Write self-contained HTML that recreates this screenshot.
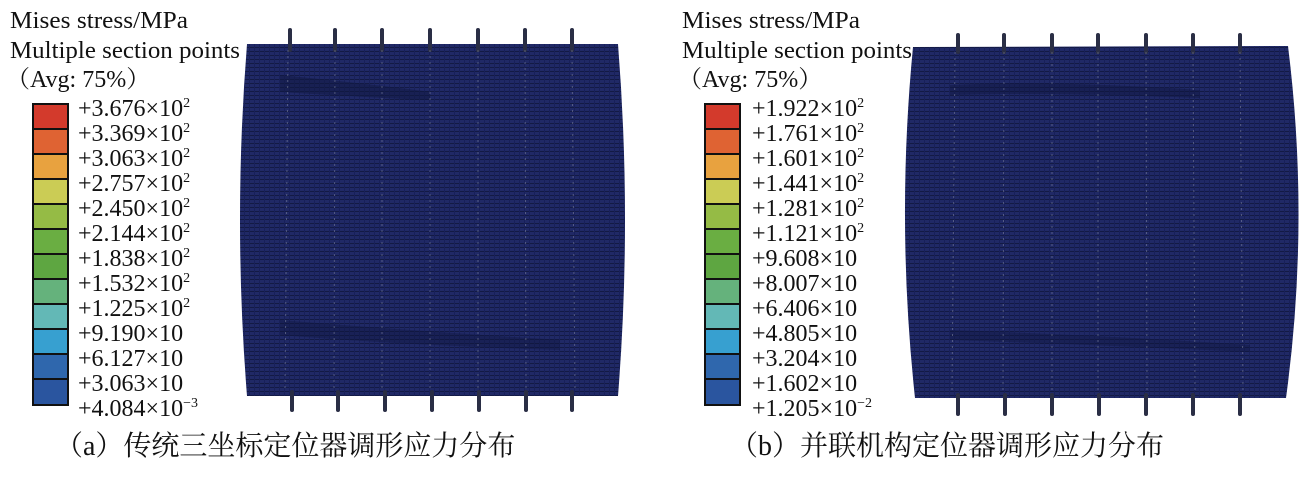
<!DOCTYPE html>
<html><head><meta charset="utf-8"><style>
html,body{margin:0;padding:0;background:#fff;}
svg text{font-family:"Liberation Serif","Noto Serif CJK SC",serif;fill:#111;}
</style></head><body>
<svg width="1307" height="473" viewBox="0 0 1307 473" xmlns="http://www.w3.org/2000/svg">
<defs>
<pattern id="mesh" width="5" height="4" patternUnits="userSpaceOnUse">
<rect width="5" height="4" fill="#202966"/>
<rect y="3" width="5" height="1" fill="#131a44"/>
<rect x="4" width="1" height="4" fill="#18205a"/>
</pattern>
</defs>

<!-- Left panel -->
<g font-size="24">
<text x="10" y="28" textLength="178" lengthAdjust="spacingAndGlyphs">Mises stress/MPa</text>
<text x="10" y="58" textLength="230" lengthAdjust="spacingAndGlyphs">Multiple section points</text>
<text x="6" y="87">（Avg: 75%）</text>
</g>
<g stroke="#111" stroke-width="2">
<rect x="33" y="104" width="35" height="25" fill="#d33a2c"/>
<rect x="33" y="129" width="35" height="25" fill="#df6333"/>
<rect x="33" y="154" width="35" height="25" fill="#e8a23f"/>
<rect x="33" y="179" width="35" height="25" fill="#cbcc55"/>
<rect x="33" y="204" width="35" height="25" fill="#95bb45"/>
<rect x="33" y="229" width="35" height="25" fill="#6aae42"/>
<rect x="33" y="254" width="35" height="25" fill="#5ea641"/>
<rect x="33" y="279" width="35" height="25" fill="#65b27c"/>
<rect x="33" y="304" width="35" height="25" fill="#63b8b6"/>
<rect x="33" y="329" width="35" height="25" fill="#37a0d0"/>
<rect x="33" y="354" width="35" height="25" fill="#2f67ad"/>
<rect x="33" y="379" width="35" height="26" fill="#2a559f"/>
</g>
<g font-size="24">
<text x="78" y="116">+3.676×10<tspan font-size="14" dy="-9">2</tspan></text>
<text x="78" y="141">+3.369×10<tspan font-size="14" dy="-9">2</tspan></text>
<text x="78" y="166">+3.063×10<tspan font-size="14" dy="-9">2</tspan></text>
<text x="78" y="191">+2.757×10<tspan font-size="14" dy="-9">2</tspan></text>
<text x="78" y="216">+2.450×10<tspan font-size="14" dy="-9">2</tspan></text>
<text x="78" y="241">+2.144×10<tspan font-size="14" dy="-9">2</tspan></text>
<text x="78" y="266">+1.838×10<tspan font-size="14" dy="-9">2</tspan></text>
<text x="78" y="291">+1.532×10<tspan font-size="14" dy="-9">2</tspan></text>
<text x="78" y="316">+1.225×10<tspan font-size="14" dy="-9">2</tspan></text>
<text x="78" y="341">+9.190×10</text>
<text x="78" y="366">+6.127×10</text>
<text x="78" y="391">+3.063×10</text>
<text x="78" y="416">+4.084×10<tspan font-size="14" dy="-9">−3</tspan></text>
</g>
<path d="M247 44 L618 44 Q632 220 618 396 L247 396 Q233 220 247 44 Z" fill="url(#mesh)"/>
<path d="M280 75 Q380 85 430 92 L430 100 Q380 98 280 92 Z" fill="#10173f" opacity="0.5"/>
<path d="M280 320 Q400 330 560 340 L560 350 Q400 345 280 335 Z" fill="#10173f" opacity="0.4"/>
<g stroke="#2a2e45" stroke-width="4" stroke-linecap="round">
<line x1="290" y1="30" x2="290" y2="50"/><line x1="335" y1="30" x2="335" y2="50"/><line x1="382" y1="30" x2="382" y2="50"/><line x1="430" y1="30" x2="430" y2="50"/><line x1="478" y1="30" x2="478" y2="50"/><line x1="525" y1="30" x2="525" y2="50"/><line x1="572" y1="30" x2="572" y2="50"/>
<line x1="292" y1="392" x2="292" y2="410"/><line x1="338" y1="392" x2="338" y2="410"/><line x1="385" y1="392" x2="385" y2="410"/><line x1="432" y1="392" x2="432" y2="410"/><line x1="479" y1="392" x2="479" y2="410"/><line x1="526" y1="392" x2="526" y2="410"/><line x1="572" y1="392" x2="572" y2="410"/>
</g>
<g stroke="#8a90a8" stroke-width="1" stroke-dasharray="2 4" opacity="0.5">
<line x1="288" y1="50" x2="285" y2="390"/><line x1="335" y1="50" x2="334" y2="390"/><line x1="382" y1="50" x2="382" y2="390"/><line x1="430" y1="50" x2="430" y2="390"/><line x1="478" y1="50" x2="478" y2="390"/><line x1="525" y1="50" x2="526" y2="390"/><line x1="572" y1="50" x2="575" y2="390"/>
</g>
<text x="55" y="455" font-size="28">（a）传统三坐标定位器调形应力分布</text>

<!-- Right panel -->
<g font-size="24">
<text x="682" y="28" textLength="178" lengthAdjust="spacingAndGlyphs">Mises stress/MPa</text>
<text x="682" y="58" textLength="230" lengthAdjust="spacingAndGlyphs">Multiple section points</text>
<text x="678" y="87">（Avg: 75%）</text>
</g>
<g stroke="#111" stroke-width="2">
<rect x="705" y="104" width="35" height="25" fill="#d33a2c"/>
<rect x="705" y="129" width="35" height="25" fill="#df6333"/>
<rect x="705" y="154" width="35" height="25" fill="#e8a23f"/>
<rect x="705" y="179" width="35" height="25" fill="#cbcc55"/>
<rect x="705" y="204" width="35" height="25" fill="#95bb45"/>
<rect x="705" y="229" width="35" height="25" fill="#6aae42"/>
<rect x="705" y="254" width="35" height="25" fill="#5ea641"/>
<rect x="705" y="279" width="35" height="25" fill="#65b27c"/>
<rect x="705" y="304" width="35" height="25" fill="#63b8b6"/>
<rect x="705" y="329" width="35" height="25" fill="#37a0d0"/>
<rect x="705" y="354" width="35" height="25" fill="#2f67ad"/>
<rect x="705" y="379" width="35" height="26" fill="#2a559f"/>
</g>
<g font-size="24">
<text x="752" y="116">+1.922×10<tspan font-size="14" dy="-9">2</tspan></text>
<text x="752" y="141">+1.761×10<tspan font-size="14" dy="-9">2</tspan></text>
<text x="752" y="166">+1.601×10<tspan font-size="14" dy="-9">2</tspan></text>
<text x="752" y="191">+1.441×10<tspan font-size="14" dy="-9">2</tspan></text>
<text x="752" y="216">+1.281×10<tspan font-size="14" dy="-9">2</tspan></text>
<text x="752" y="241">+1.121×10<tspan font-size="14" dy="-9">2</tspan></text>
<text x="752" y="266">+9.608×10</text>
<text x="752" y="291">+8.007×10</text>
<text x="752" y="316">+6.406×10</text>
<text x="752" y="341">+4.805×10</text>
<text x="752" y="366">+3.204×10</text>
<text x="752" y="391">+1.602×10</text>
<text x="752" y="416">+1.205×10<tspan font-size="14" dy="-9">−2</tspan></text>
</g>
<path d="M913 47 L1288 46 Q1310 222 1286 398 L915 398 Q896 222 913 47 Z" fill="url(#mesh)"/>
<path d="M950 85 Q1050 80 1200 90 L1200 98 Q1050 92 950 95 Z" fill="#10173f" opacity="0.45"/>
<path d="M950 330 Q1100 335 1250 345 L1250 352 Q1100 345 950 340 Z" fill="#10173f" opacity="0.4"/>
<g stroke="#2a2e45" stroke-width="4" stroke-linecap="round">
<line x1="958" y1="35" x2="958" y2="52"/><line x1="1004" y1="35" x2="1004" y2="52"/><line x1="1052" y1="35" x2="1052" y2="52"/><line x1="1098" y1="35" x2="1098" y2="52"/><line x1="1146" y1="35" x2="1146" y2="52"/><line x1="1193" y1="35" x2="1193" y2="52"/><line x1="1240" y1="35" x2="1240" y2="52"/>
<line x1="958" y1="395" x2="958" y2="414"/><line x1="1005" y1="395" x2="1005" y2="414"/><line x1="1052" y1="395" x2="1052" y2="414"/><line x1="1099" y1="395" x2="1099" y2="414"/><line x1="1146" y1="395" x2="1146" y2="414"/><line x1="1193" y1="395" x2="1193" y2="414"/><line x1="1240" y1="395" x2="1240" y2="414"/>
</g>
<g stroke="#8a90a8" stroke-width="1" stroke-dasharray="2 4" opacity="0.5">
<line x1="955" y1="52" x2="952" y2="392"/><line x1="1004" y1="52" x2="1003" y2="392"/><line x1="1052" y1="52" x2="1052" y2="392"/><line x1="1098" y1="52" x2="1098" y2="392"/><line x1="1146" y1="52" x2="1147" y2="392"/><line x1="1193" y1="52" x2="1195" y2="392"/><line x1="1240" y1="52" x2="1243" y2="392"/>
</g>
<text x="730" y="455" font-size="28">（b）并联机构定位器调形应力分布</text>
</svg>
</body></html>
